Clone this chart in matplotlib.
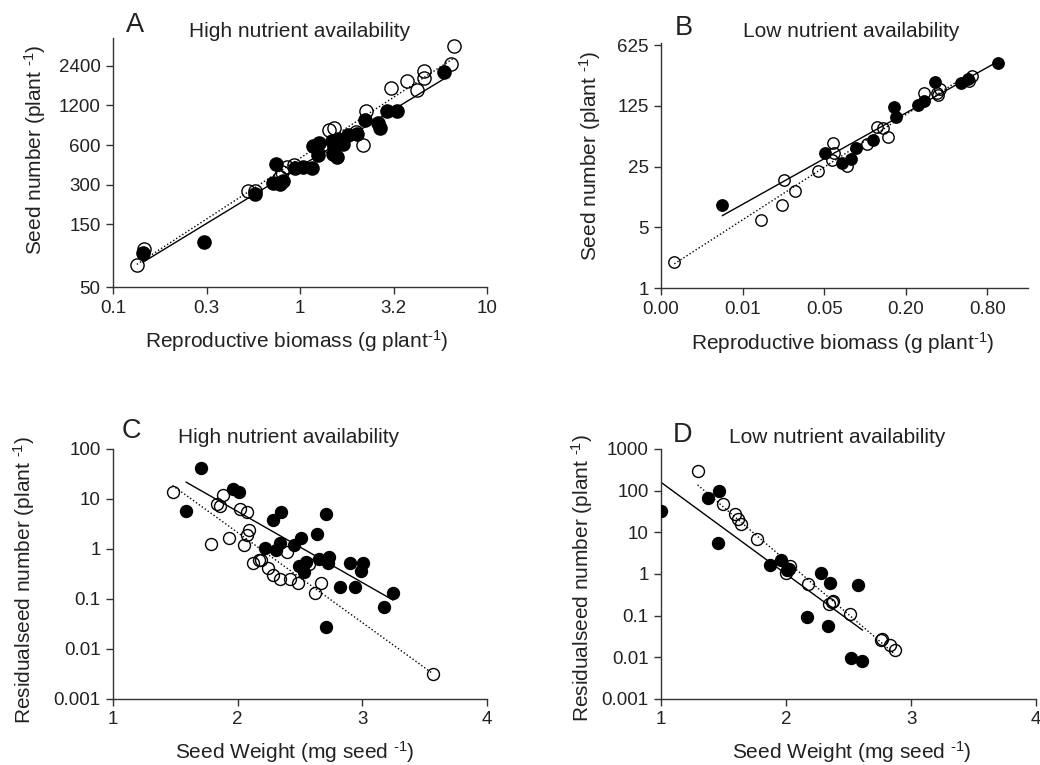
import matplotlib
matplotlib.use("Agg")
import matplotlib.pyplot as plt
import numpy as np

plt.rcParams["font.family"] = ["Liberation Sans", "DejaVu Sans"]
plt.rcParams["mathtext.fontset"] = "custom"
plt.rcParams["mathtext.rm"] = "Liberation Sans"
plt.rcParams["mathtext.it"] = "Liberation Sans:italic"
plt.rcParams["mathtext.bf"] = "Liberation Sans:bold"

TEXT = "#222222"
SPINE = "#333333"

# --- A: high nutrients, seed number vs reproductive biomass ---
a_filled_x = [0.145, 0.307, 0.574, 0.719, 0.78, 0.815, 0.745, 0.94, 1.04, 1.16, 1.18, 1.26, 1.25, 1.48,
              1.51, 1.50, 1.58, 1.60, 1.70, 1.81, 2.01, 2.23, 2.62, 2.68, 2.91, 3.29, 5.92]
a_filled_y = [90, 110, 256, 308, 302, 320, 434, 400, 406, 400, 594, 620, 507, 649,
              576, 514, 489, 668, 613, 710, 732, 936, 881, 813, 1083, 1083, 2167]
a_open_x = [0.134, 0.147, 0.525, 0.574, 0.80, 0.85, 0.93, 0.78, 1.42, 1.52, 1.42, 1.98, 2.24, 2.18,
            3.07, 3.75, 4.21, 4.60, 4.60, 6.40, 6.68]
a_open_y = [74, 98, 267, 267, 371, 410, 420, 340, 780, 813, 594, 752, 1083, 605,
            1620, 1842, 1570, 1933, 2204, 2484, 3420]
a_xticks = [0.1, 10 ** -0.5, 1, 10 ** 0.5, 10]
a_xticklabels = ["0.1", "0.3", "1", "3.2", "10"]
a_yticks = [50, 150, 300, 600, 1200, 2400]

# --- B: low nutrients ---
b_filled_x = [0.00888, 0.0508, 0.0675, 0.0788, 0.0863, 0.114, 0.163, 0.170, 0.246, 0.274, 0.330,
              0.512, 0.573, 0.954]
b_filled_y = [9.1, 36.0, 27.6, 30.9, 41.2, 49.9, 121, 93.1, 126, 141, 235, 227, 257, 387]
b_open_x = [0.00392, 0.01704, 0.0246, 0.0253, 0.0306, 0.0447, 0.0578, 0.059, 0.0571, 0.0734, 0.104,
            0.123, 0.136, 0.147, 0.271, 0.340, 0.345, 0.359, 0.583, 0.614]
b_open_y = [1.98, 6.1, 9.1, 17.4, 13.2, 22.5, 46.1, 36.0, 29.4, 25.6, 45.7, 71.9, 68.7, 54.5,
            177, 177, 165, 196, 242, 275]
b_xticks = [0.003125, 0.0125, 0.05, 0.2, 0.8]
b_xticklabels = ["0.00", "0.01", "0.05", "0.20", "0.80"]
b_yticks = [1, 5, 25, 125, 625]

# --- C: high nutrients, residual seed number vs seed weight ---
c_filled_x = [1.709, 1.587, 1.965, 2.011, 2.283, 2.349, 2.709, 2.637, 2.504, 2.451, 2.336, 2.304,
              2.216, 2.656, 2.736, 2.725, 2.491, 2.544, 2.531, 2.904, 3.005, 2.989, 2.824, 2.944,
              3.245, 3.176, 2.712]
c_filled_y = [41, 5.7, 15.7, 13.9, 3.75, 5.4, 5.0, 2.03, 1.69, 1.18, 1.31, 0.94,
              1.04, 0.64, 0.69, 0.52, 0.45, 0.55, 0.34, 0.52, 0.52, 0.36, 0.17, 0.17,
              0.13, 0.068, 0.027]
c_open_x = [1.477, 1.832, 1.859, 1.883, 2.016, 2.077, 1.784, 1.931, 2.051, 2.091, 2.077, 2.123,
            2.171, 2.189, 2.243, 2.285, 2.339, 2.419, 2.483, 2.392, 2.571, 2.672, 2.619, 3.563]
c_open_y = [13.5, 8.1, 7.2, 11.9, 6.2, 5.4, 1.24, 1.69, 1.18, 2.44, 1.88, 0.52,
            0.59, 0.61, 0.42, 0.295, 0.253, 0.253, 0.21, 0.87, 0.49, 0.21, 0.13, 0.0031]
c_yticks = [0.001, 0.01, 0.1, 1, 10, 100]

# --- D: low nutrients ---
d_filled_x = [1.0, 1.379, 1.464, 1.453, 1.872, 1.960, 2.019, 2.005, 2.277, 2.352, 2.579, 2.165,
              2.339, 2.517, 2.611]
d_filled_y = [32.9, 65, 100, 5.4, 1.63, 2.15, 1.35, 1.23, 1.06, 0.61, 0.54, 0.093,
              0.057, 0.0098, 0.0082]
d_open_x = [1.293, 1.493, 1.592, 1.613, 1.640, 1.765, 2.0, 2.024, 2.032, 2.179, 2.347, 2.365,
            2.379, 2.512, 2.760, 2.771, 2.832, 2.872]
d_open_y = [301, 46.8, 27.4, 20.4, 15.5, 7.1, 1.03, 1.3, 1.54, 0.59, 0.19, 0.21,
            0.23, 0.108, 0.0256, 0.028, 0.020, 0.0147]
d_yticks = [0.001, 0.01, 0.1, 1, 10, 100, 1000]

sw_xticks = [1, 2, 3, 4]


def fmt(v):
    return f"{v:g}"


def fit_line(ax, x, y, logx, style):
    x = np.asarray(x, float)
    y = np.asarray(y, float)
    xx = np.log10(x) if logx else x
    k, b = np.polyfit(xx, np.log10(y), 1)
    xs = np.linspace(xx.min(), xx.max(), 50)
    ys = 10 ** (k * xs + b)
    ax.plot(10 ** xs if logx else xs, ys, color="black", lw=1.0, linestyle=style, zorder=2)


def draw(ax, fx, fy, ox, oy, logx, ms):
    fit_line(ax, fx, fy, logx, "-")
    fit_line(ax, ox, oy, logx, (0, (1, 1.6)))
    ax.plot(fx, fy, "o", ms=ms, mfc="black", mec="black", mew=1.0, ls="none", zorder=3)
    ax.plot(ox, oy, "o", ms=ms, mfc="none", mec="black", mew=1.0, ls="none", zorder=4)


def style(ax):
    for s in ["top", "right"]:
        ax.spines[s].set_visible(False)
    for s in ["left", "bottom"]:
        ax.spines[s].set_color(SPINE)
        ax.spines[s].set_linewidth(1.0)
    ax.minorticks_off()
    ax.tick_params(direction="out", length=5, width=1.0, color=SPINE, labelsize=13.5,
                   labelcolor=TEXT, pad=4)


fig = plt.figure(figsize=(10.4, 7.65), dpi=100)
axA = fig.add_axes([0.1087, 0.6248, 0.3596, 0.3255])
axB = fig.add_axes([0.6356, 0.6235, 0.3529, 0.3203])
axC = fig.add_axes([0.1087, 0.0863, 0.3596, 0.3268])
axD = fig.add_axes([0.6356, 0.0863, 0.3606, 0.3268])

for ax in [axA, axB, axC, axD]:
    ax.set_yscale("log")
axA.set_xscale("log")
axB.set_xscale("log")

draw(axA, a_filled_x, a_filled_y, a_open_x, a_open_y, True, 9.5)
draw(axB, b_filled_x, b_filled_y, b_open_x, b_open_y, True, 8.2)
draw(axC, c_filled_x, c_filled_y, c_open_x, c_open_y, False, 8.6)
draw(axD, d_filled_x, d_filled_y, d_open_x, d_open_y, False, 8.6)

axA.set_xlim(0.1, 10)
axA.set_ylim(50, 3900)
axB.set_xlim(0.003125, 1.6)
axB.set_ylim(1, 660)
axC.set_xlim(1, 4)
axC.set_ylim(0.001, 100)
axD.set_xlim(1, 4)
axD.set_ylim(0.001, 1000)

for ax in [axA, axB, axC, axD]:
    style(ax)

axA.set_xticks(a_xticks)
axA.set_xticklabels(a_xticklabels)
axA.set_yticks(a_yticks)
axA.set_yticklabels([fmt(v) for v in a_yticks])
axB.set_xticks(b_xticks)
axB.set_xticklabels(b_xticklabels)
axB.set_yticks(b_yticks)
axB.set_yticklabels([fmt(v) for v in b_yticks])
for ax, yt in [(axC, c_yticks), (axD, d_yticks)]:
    ax.set_xticks(sw_xticks)
    ax.set_xticklabels([fmt(v) for v in sw_xticks])
    ax.set_yticks(yt)
    ax.set_yticklabels([fmt(v) for v in yt])
for ax in [axA, axB, axC, axD]:
    ax.minorticks_off()

# hyphen (not math minus) in the superscripts, like the original
bio_label = r"Reproductive biomass (g plant$^{\text{-1}}$)"
seed_label = r"Seed number (plant $^{\text{-1}}$)"
resid_label = r"Residualseed number (plant $^{\text{-1}}$)"
weight_label = r"Seed Weight (mg seed $^{\text{-1}}$)"

labels = [
    (axA, bio_label, seed_label, (0.492, -0.217), (-0.209, 0.55)),
    (axB, bio_label, seed_label, (0.496, -0.224), (-0.193, 0.54)),
    (axC, weight_label, resid_label, (0.487, -0.212), (-0.238, 0.476)),
    (axD, weight_label, resid_label, (0.509, -0.212), (-0.211, 0.484)),
]
for ax, xl, yl, xc, yc in labels:
    ax.set_xlabel(xl, fontsize=15, color=TEXT)
    ax.set_ylabel(yl, fontsize=15, color=TEXT)
    ax.xaxis.set_label_coords(*xc)
    ax.yaxis.set_label_coords(*yc)
    ax.xaxis.label.set_va("center")
    ax.yaxis.label.set_va("center")

# panel letters and titles
panels = [
    ("A", 0.1212, 0.9582, "High nutrient availability", 0.2885, 0.9516),
    ("B", 0.6490, 0.9542, "Low nutrient availability", 0.8183, 0.9516),
    ("C", 0.1173, 0.4275, "High nutrient availability", 0.2779, 0.4209),
    ("D", 0.6471, 0.4222, "Low nutrient availability", 0.8048, 0.4209),
]
for letter, lx, ly, title, tx, ty in panels:
    fig.text(lx, ly, letter, fontsize=19.5, color=TEXT, ha="left", va="baseline")
    fig.text(tx, ty, title, fontsize=15, color=TEXT, ha="center", va="baseline")

fig.savefig("out.png", dpi=100)
